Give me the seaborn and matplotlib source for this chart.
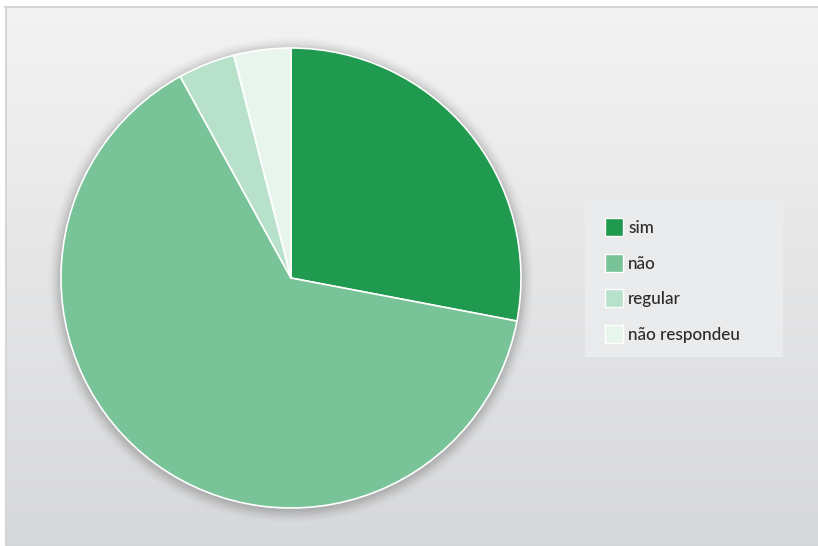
import numpy as np
import matplotlib
matplotlib.use("Agg")
import matplotlib.pyplot as plt
import seaborn as sns
from matplotlib.patches import Rectangle, Circle
from matplotlib.lines import Line2D

categories = ["sim", "não", "regular", "não respondeu"]
values = [28, 64, 4, 4]
colors = ["#1f9a4e", "#78c397", "#b8e1cb", "#e8f5ec"]

sns.set_theme(style="white")
plt.rcParams['font.family'] = ['Lato', 'DejaVu Sans']

W, H = 818, 546
fig = plt.figure(figsize=(W/100, H/100), dpi=100)
fig.patch.set_facecolor("white")

# background gradient
bg = fig.add_axes([5/W, 0, 1 - 5/W, 1 - 6/H])
grad = np.linspace(0, 1, 256).reshape(-1, 1)
top = np.array([0.953, 0.953, 0.953])
bot = np.array([0.843, 0.847, 0.855])
img = top[None, None, :] * (1 - grad[:, :, None]) + bot[None, None, :] * grad[:, :, None]
bg.imshow(img, aspect="auto", extent=[0, 1, 0, 1], origin="upper")
bg.set_xlim(0, 1); bg.set_ylim(0, 1)
bg.axis("off")
fig.lines.append(Line2D([5/W, 1], [1 - 6.5/H, 1 - 6.5/H], transform=fig.transFigure, color="#d6d6d6", lw=1.5))
fig.lines.append(Line2D([5.5/W, 5.5/W], [0, 1 - 6.5/H], transform=fig.transFigure, color="#d6d6d6", lw=1.5))

cx, cy, r = 291, 278, 230
pad = 1.15
ax = fig.add_axes([(cx - r*pad)/W, (H - cy - r*pad)/H, 2*r*pad/W, 2*r*pad/H])
ax.set_facecolor("none")
# soft shadow
n = 10
for k in range(n):
    ax.add_patch(Circle((0.0, -0.008), 1.0 + 0.006*(k+1), color="black", alpha=0.035*(1 - k/n), lw=0, zorder=0))
wedges, _ = ax.pie(values, colors=colors, startangle=90, counterclock=False,
                   wedgeprops=dict(edgecolor="white", linewidth=1.2), radius=1.0)
for w in wedges:
    w.set_zorder(2)
ax.set_xlim(-pad, pad); ax.set_ylim(-pad, pad)
ax.set_aspect("auto")
ax.axis("off")

# legend box
lx0, ly0, lx1, ly1 = 585, 200, 783, 357
fig.patches.append(Rectangle((lx0/W, 1 - ly1/H), (lx1-lx0)/W, (ly1-ly0)/H,
                             transform=fig.transFigure, facecolor="#eaebec", edgecolor="none", zorder=5))
ys = [227, 263, 298, 334]
for cat, col, y in zip(categories, colors, ys):
    fig.patches.append(Rectangle((605/W, 1 - (y + 9)/H), 18/W, 18/H, transform=fig.transFigure,
                                 facecolor=col, edgecolor="white", lw=1, zorder=6))
    fig.text(628/W, 1 - (y + 1)/H, cat, fontsize=12.3, color="#2b2b2b", va="center", ha="left",
             fontweight="medium", zorder=7)

fig.savefig("out.png", dpi=100)
